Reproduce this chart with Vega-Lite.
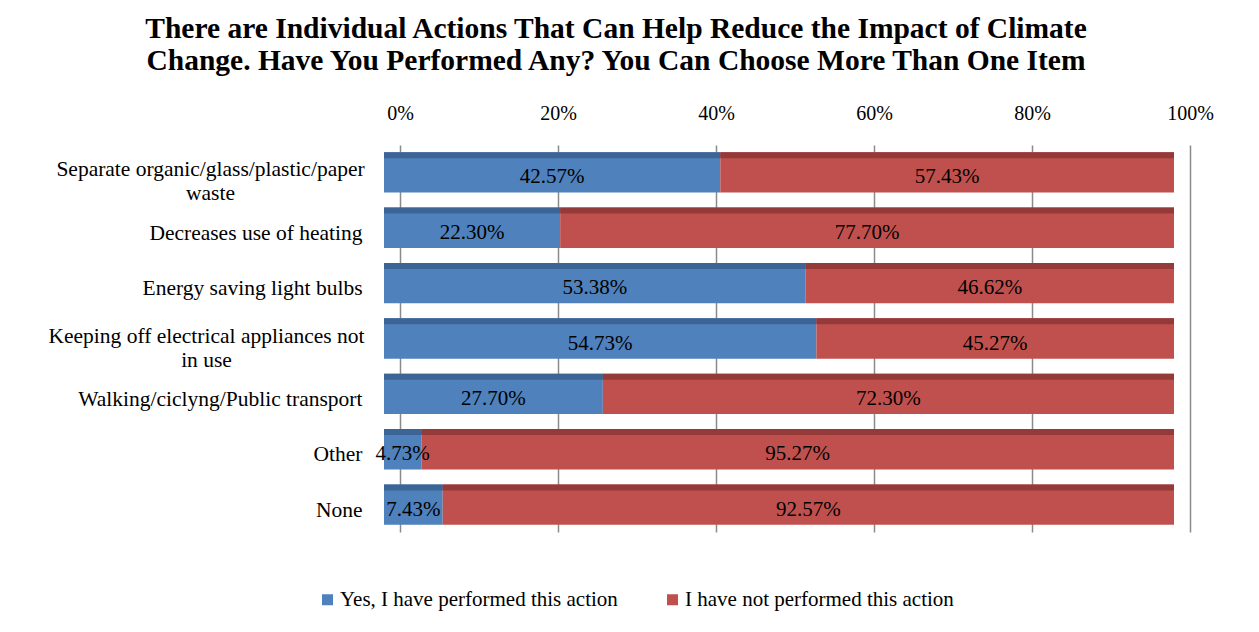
{
  "$schema": "https://vega.github.io/schema/vega-lite/v6.json",
  "width": 790,
  "height": 387,
  "autosize": {"type": "none"},
  "padding": {"left": 384, "top": 145, "right": 85, "bottom": 100},
  "background": "white",
  "title": {
    "text": ["There are Individual Actions That Can Help Reduce the Impact of Climate", "Change. Have You Performed Any? You Can Choose More Than One Item"],
    "font": "Liberation Serif",
    "fontSize": 29.5,
    "fontWeight": "bold",
    "color": "#000000",
    "lineHeight": 32,
    "anchor": "middle",
    "dx": -163,
    "offset": 27
  },
  "data": {
    "values": [
      {"item": "Separate organic/glass/plastic/paper waste", "response": "Yes, I have performed this action", "pct": 42.57},
      {"item": "Separate organic/glass/plastic/paper waste", "response": "I have not performed this action", "pct": 57.43},
      {"item": "Decreases use of heating", "response": "Yes, I have performed this action", "pct": 22.30},
      {"item": "Decreases use of heating", "response": "I have not performed this action", "pct": 77.70},
      {"item": "Energy saving light bulbs", "response": "Yes, I have performed this action", "pct": 53.38},
      {"item": "Energy saving light bulbs", "response": "I have not performed this action", "pct": 46.62},
      {"item": "Keeping off electrical appliances not in use", "response": "Yes, I have performed this action", "pct": 54.73},
      {"item": "Keeping off electrical appliances not in use", "response": "I have not performed this action", "pct": 45.27},
      {"item": "Walking/ciclyng/Public transport", "response": "Yes, I have performed this action", "pct": 27.70},
      {"item": "Walking/ciclyng/Public transport", "response": "I have not performed this action", "pct": 72.30},
      {"item": "Other", "response": "Yes, I have performed this action", "pct": 4.73},
      {"item": "Other", "response": "I have not performed this action", "pct": 95.27},
      {"item": "None", "response": "Yes, I have performed this action", "pct": 7.43},
      {"item": "None", "response": "I have not performed this action", "pct": 92.57}
    ]
  },
  "transform": [
    {"stack": "pct", "groupby": ["item"], "sort": [{"field": "response", "order": "descending"}], "as": ["s0", "s1"]},
    {"calculate": "(datum.s0 + datum.s1) / 2", "as": "mid"},
    {"calculate": "format(datum.pct, '.2f') + '%'", "as": "lbl"}
  ],
  "encoding": {
    "y": {
      "field": "item",
      "type": "nominal",
      "sort": ["Separate organic/glass/plastic/paper waste", "Decreases use of heating", "Energy saving light bulbs", "Keeping off electrical appliances not in use", "Walking/ciclyng/Public transport", "Other", "None"],
      "scale": {"paddingInner": 0.27, "paddingOuter": 0.13},
      "axis": {
        "title": null,
        "ticks": false,
        "domain": false,
        "labelFont": "Liberation Serif",
        "labelFontSize": 21.5,
        "labelColor": "#000000",
        "labelLimit": 500,
        "labelLineHeight": 24,
        "labelExpr": "datum.value == 'Separate organic/glass/plastic/paper waste' ? ['Separate organic/glass/plastic/paper', 'waste'] : datum.value == 'Keeping off electrical appliances not in use' ? ['Keeping off electrical appliances not', 'in use'] : datum.value",
        "labelAlign": {"condition": {"test": "datum.value == 'Separate organic/glass/plastic/paper waste' || datum.value == 'Keeping off electrical appliances not in use'", "value": "center"}, "value": "right"},
        "labelPadding": {"condition": [{"test": "datum.value == 'Separate organic/glass/plastic/paper waste'", "value": 174}, {"test": "datum.value == 'Keeping off electrical appliances not in use'", "value": 178}], "value": 22},
        "labelOffset": {"condition": {"test": "datum.value == 'Separate organic/glass/plastic/paper waste' || datum.value == 'Keeping off electrical appliances not in use'", "value": -2}, "value": 6}
      }
    }
  },
  "layer": [
    {
      "mark": {"type": "bar"},
      "encoding": {
        "x": {
          "field": "s0",
          "type": "quantitative",
          "scale": {"domain": [0, 100]},
          "axis": {
            "orient": "top",
            "title": null,
            "values": [0, 20, 40, 60, 80, 100],
            "labelExpr": "datum.value + '%'",
            "ticks": false,
            "domain": false,
            "tickOffset": 16,
            "labelFlush": false,
            "labelPadding": 22,
            "labelFont": "Liberation Serif",
            "labelFontSize": 20,
            "labelColor": "#000000",
            "grid": true,
            "gridColor": "#8a8a8a",
            "gridWidth": 1.5
          }
        },
        "x2": {"field": "s1"},
        "color": {
          "field": "response",
          "type": "nominal",
          "scale": {"domain": ["Yes, I have performed this action", "I have not performed this action"], "range": ["#4F81BD", "#C0504D"]},
          "legend": {
            "title": null,
            "orient": "none",
            "direction": "horizontal",
            "legendX": -67,
            "legendY": 444,
            "symbolType": "square",
            "symbolSize": 121,
            "symbolStrokeWidth": 0,
            "labelFont": "Liberation Serif",
            "labelFontSize": 21,
            "labelColor": "#000000",
            "labelLimit": 600,
            "labelOffset": 2,
            "columnPadding": 44
          }
        }
      }
    },
    {
      "mark": {"type": "bar", "height": 6, "yOffset": -17.2},
      "encoding": {
        "x": {"field": "s0", "type": "quantitative"},
        "x2": {"field": "s1"},
        "color": {"condition": {"test": "datum.response == 'Yes, I have performed this action'", "value": "#3C6595"}, "value": "#943A38"}
      }
    },
    {
      "mark": {"type": "text", "font": "Liberation Serif", "fontSize": 21, "color": "#000000", "yOffset": 5},
      "encoding": {
        "x": {"field": "mid", "type": "quantitative"},
        "text": {"field": "lbl"}
      }
    }
  ],
  "config": {"view": {"stroke": null}, "font": "Liberation Serif", "text": {"font": "Liberation Serif"}}
}
